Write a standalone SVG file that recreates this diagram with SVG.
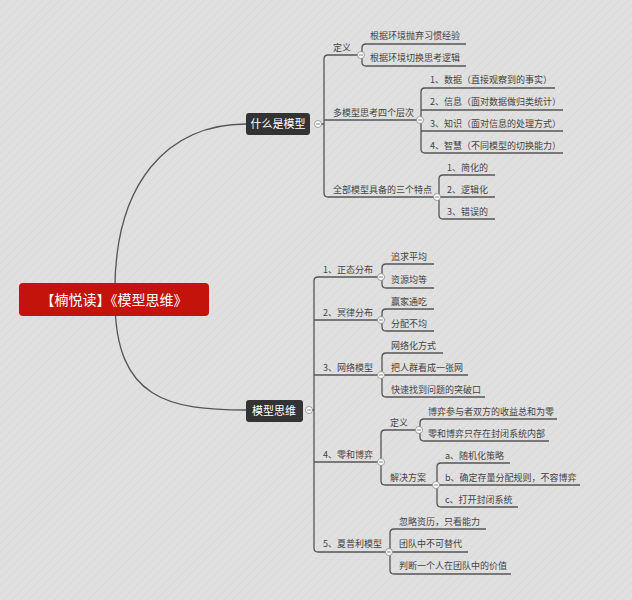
<svg xmlns="http://www.w3.org/2000/svg" width="632" height="600" viewBox="0 0 632 600">
<defs>
<pattern id="bg" width="6" height="6" patternUnits="userSpaceOnUse" patternTransform="rotate(45)">
<rect width="6" height="6" fill="#e0e0e0"/><rect width="1" height="6" fill="#d9d9d9"/>
</pattern>
<g id="tog"><circle r="3.5" fill="#fff" stroke="#888" stroke-width="0.8"/><line x1="-2" x2="2" y1="0" y2="0" stroke="#666" stroke-width="0.8"/></g>
</defs>
<style>
.l{fill:none;stroke:#555;stroke-width:1.3}
.t{font-family:"Noto Sans CJK SC","Noto Sans",sans-serif;font-size:9px;fill:#444}
.m{font-family:"Noto Sans CJK SC","Noto Sans",sans-serif;font-size:9px;fill:#444}
.w{font-family:"Noto Sans CJK SC","Noto Sans",sans-serif;font-size:11px;fill:#fff;text-anchor:middle}
.r{font-family:"Noto Sans CJK SC","Noto Sans",sans-serif;font-size:14px;fill:#fff;text-anchor:middle}
</style>
<rect width="632" height="600" fill="url(#bg)"/>
<g id="connectors">
<path class="l" d="M115,300 C112,180 170,124 246,124" stroke-width="1.1"/>
<path class="l" d="M115,300 C115,400 170,410 246,410" stroke-width="1.1"/>
<path class="l" d="M318,124 H324 M361,55 H328 Q324,55 324,59 V193 Q324,197 328,197 H437 M324,120 H420"/>
<path class="l" d="M466,44 H366 Q362,44 362,48 V62 Q362,66 366,66 H466"/>
<path class="l" d="M555,88 H425 Q421,88 421,92 V149 Q421,153 425,153 H563 M421,110 H563 M421,131 H563"/>
<path class="l" d="M495,175 H443 Q439,175 439,179 V215 Q439,219 443,219 H495 M439,197 H495"/>
<path class="l" d="M309,410 H314 M381,277 H318 Q314,277 314,281 V548 Q314,552 318,552 H389 M314,320 H381 M314,375 H381 M314,462 H381"/>
<path class="l" d="M434,264 H386 Q382,264 382,268 V284 Q382,288 386,288 H434"/>
<path class="l" d="M434,309 H386 Q382,309 382,313 V327 Q382,331 386,331 H434"/>
<path class="l" d="M443,353 H386 Q382,353 382,357 V393 Q382,397 386,397 H485 M382,375 H468"/>
<path class="l" d="M419,430 H385 Q381,430 381,434 V481 Q381,485 385,485 H436"/>
<path class="l" d="M557,419 H424 Q420,419 420,423 V437 Q420,441 424,441 H549"/>
<path class="l" d="M510,463 H441 Q437,463 437,467 V503 Q437,507 441,507 H518 M437,485 H580"/>
<path class="l" d="M486,529 H394 Q390,529 390,533 V570 Q390,574 394,574 H511 M390,552 H468"/>
</g>
<g id="root"><rect x="19" y="283" width="190" height="33" rx="4" fill="#c3130b"/><text class="r" x="114" y="305">【楠悦读】《模型思维》</text></g>
<g id="n1"><rect x="246" y="113" width="64" height="22" rx="3" fill="#333"/><text class="w" x="278" y="128">什么是模型</text><use href="#tog" x="318" y="124"/></g>
<g id="n2"><rect x="246" y="400" width="57" height="22" rx="3" fill="#333"/><text class="w" x="274" y="415">模型思维</text><use href="#tog" x="309" y="410"/></g>
<g id="b1">
<text class="m" x="333" y="51">定义</text><use href="#tog" x="361" y="55"/>
<text class="t" x="370" y="39">根据环境抛弃习惯经验</text>
<text class="t" x="370" y="61">根据环境切换思考逻辑</text>
<text class="m" x="333" y="116">多模型思考四个层次</text><use href="#tog" x="420" y="120"/>
<text class="t" x="430" y="83">1、数据（直接观察到的事实）</text>
<text class="t" x="430" y="105">2、信息（面对数据做归类统计）</text>
<text class="t" x="430" y="127">3、知识（面对信息的处理方式）</text>
<text class="t" x="430" y="149">4、智慧（不同模型的切换能力）</text>
<text class="m" x="333" y="193">全部模型具备的三个特点</text><use href="#tog" x="437" y="197"/>
<text class="t" x="447" y="171">1、简化的</text>
<text class="t" x="447" y="193">2、逻辑化</text>
<text class="t" x="447" y="215">3、错误的</text>
</g>
<g id="b2">
<text class="m" x="323" y="273">1、正态分布</text><use href="#tog" x="381" y="277"/>
<text class="t" x="391" y="260">追求平均</text>
<text class="t" x="391" y="283">资源均等</text>
<text class="m" x="323" y="316">2、冥律分布</text><use href="#tog" x="381" y="320"/>
<text class="t" x="391" y="305">赢家通吃</text>
<text class="t" x="391" y="327">分配不均</text>
<text class="m" x="323" y="371">3、网络模型</text><use href="#tog" x="381" y="375"/>
<text class="t" x="391" y="349">网络化方式</text>
<text class="t" x="391" y="371">把人群看成一张网</text>
<text class="t" x="391" y="393">快速找到问题的突破口</text>
<text class="m" x="323" y="458">4、零和博弈</text><use href="#tog" x="381" y="462"/>
<text class="m" x="390" y="426">定义</text><use href="#tog" x="419" y="430"/>
<text class="t" x="428" y="415">博弈参与者双方的收益总和为零</text>
<text class="t" x="428" y="437">零和博弈只存在封闭系统内部</text>
<text class="m" x="390" y="481">解决方案</text><use href="#tog" x="436" y="485"/>
<text class="t" x="445" y="459">a、随机化策略</text>
<text class="t" x="445" y="481">b、确定存量分配规则，不容博弈</text>
<text class="t" x="445" y="503">c、打开封闭系统</text>
<text class="m" x="323" y="547">5、夏普利模型</text><use href="#tog" x="389" y="552"/>
<text class="t" x="399" y="525">忽略资历，只看能力</text>
<text class="t" x="399" y="547">团队中不可替代</text>
<text class="t" x="399" y="569">判断一个人在团队中的价值</text>
</g>
</svg>
